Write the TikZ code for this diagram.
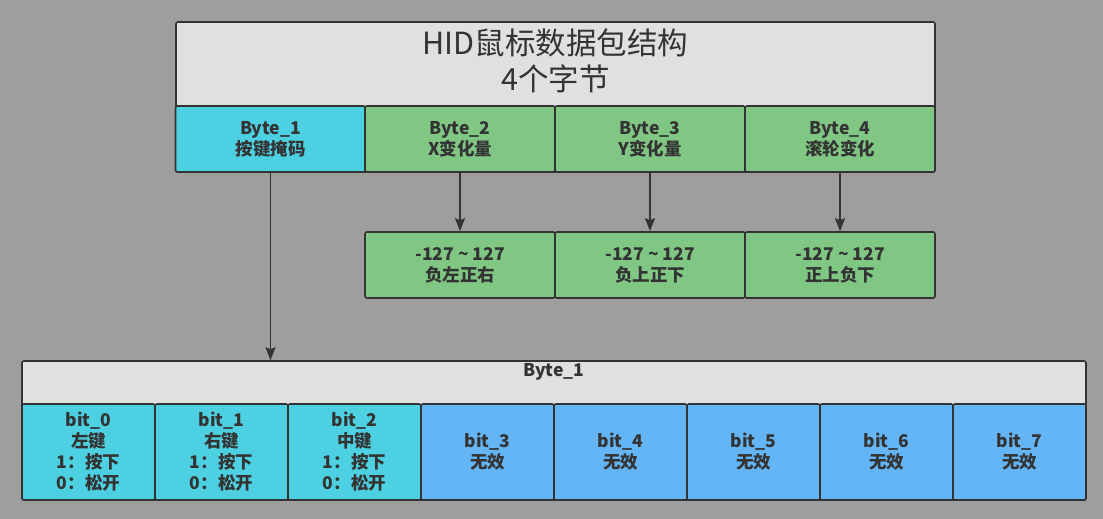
\documentclass[tikz,border=0pt]{standalone}
\usepackage{fontspec}
\setmainfont{Noto Sans CJK SC}
\usetikzlibrary{arrows.meta}
\definecolor{bgc}{RGB}{158,158,158}
\definecolor{linec}{RGB}{51,51,51}
\definecolor{headc}{RGB}{224,224,224}
\definecolor{cyanc}{RGB}{77,208,225}
\definecolor{greenc}{RGB}{129,199,132}
\definecolor{bluec}{RGB}{100,181,246}
\tikzset{
  box/.style={draw=linec,line width=1.6pt,rounded corners=2pt,text=linec,inner sep=0pt,
    align=center,font=\bfseries\fontsize{17.5}{21}\selectfont},
  bytebox/.style={box,minimum width=190pt,minimum height=66pt},
  bitbox/.style={box,minimum width=133pt,minimum height=96pt},
  arr/.style={draw=linec,line width=1.6pt,-{Stealth[length=13pt,width=10pt,inset=2pt]}}
}
\begin{document}
\begin{tikzpicture}[x=1pt,y=-1pt]
            \useasboundingbox[fill=bgc] (0,0) rectangle (1103,519);
            % packet header
            \node[box,fill=headc,minimum width=759pt,minimum height=150pt] (pkt) at (555.5,97) {};
            \node[text=linec,align=center,font=\fontsize{30.5}{36}\selectfont] (title) at (555.5,61) {HID鼠标数据包结构\\4个字节};
            \node[bytebox,fill=cyanc] (b1) at (270.5,139) {Byte\_1\\按键掩码};
            \node[bytebox,fill=greenc] (b2) at (460,139) {Byte\_2\\X变化量};
            \node[bytebox,fill=greenc] (b3) at (650,139) {Byte\_3\\Y变化量};
            \node[bytebox,fill=greenc] (b4) at (840,139) {Byte\_4\\滚轮变化};
            % value ranges
            \node[bytebox,fill=greenc] (v2) at (460,265) {-127 \textasciitilde{} 127\\负左正右};
            \node[bytebox,fill=greenc] (v3) at (650,265) {-127 \textasciitilde{} 127\\负上正下};
            \node[bytebox,fill=greenc] (v4) at (840,265) {-127 \textasciitilde{} 127\\正上负下};
            \draw[arr] (b2) -- (v2);
            \draw[arr] (b3) -- (v3);
            \draw[arr] (b4) -- (v4);
            % byte 1 bits
            \node[box,fill=headc,minimum width=1064pt,minimum height=139pt] (reg) at (554,430.5) {};
            \node[text=linec,font=\bfseries\fontsize{17.5}{21}\selectfont] (regname) at (554,372) {Byte\_1};
            \node[bitbox,fill=cyanc] (bit0) at (88.5,452) {bit\_0\\左键\\1：按下\\0：松开};
            \node[bitbox,fill=cyanc] (bit1) at (221.5,452) {bit\_1\\右键\\1：按下\\0：松开};
            \node[bitbox,fill=cyanc] (bit2) at (354.5,452) {bit\_2\\中键\\1：按下\\0：松开};
            \foreach \i in {3,...,7}
              \node[bitbox,fill=bluec] (bit\i) at (88.5+133*\i,452) {bit\_\i\\无效};
            \draw[arr] (b1) -- (b1 |- reg.north);
        \end{tikzpicture}
\end{document}
